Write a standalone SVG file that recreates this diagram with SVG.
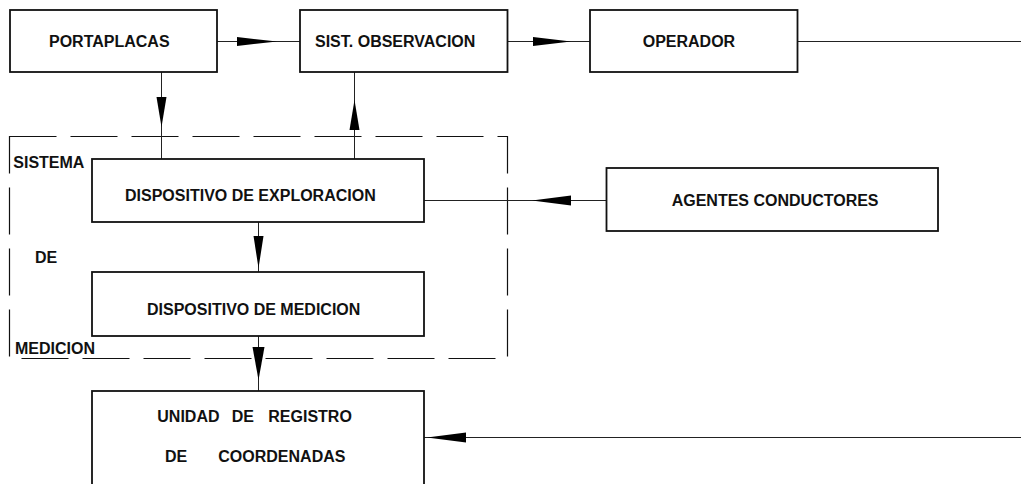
<svg xmlns="http://www.w3.org/2000/svg" width="1021" height="484" viewBox="0 0 1021 484">
<style>
.box{fill:#fff;stroke:#111;stroke-width:1.8}
.ln{fill:none;stroke:#222;stroke-width:1}
.hd{fill:#000;stroke:none}
.dash{fill:none;stroke:#111;stroke-width:1.2;stroke-dasharray:47 14}
text{font-family:"Liberation Sans",Arial,sans-serif;font-weight:bold;font-size:16px;fill:#111}
</style>
<rect width="1021" height="484" fill="#fff"/>
<g id="sistema-medicion">
<path class="dash" d="M9.5,136.5 H507.5 V358.5 H9.5 Z"/>
<text x="13.3" y="168.3">SISTEMA</text>
<text x="35" y="262.7">DE</text>
<text x="15" y="354">MEDICION</text>
</g>
<g id="connectors">
<line class="ln" x1="217" y1="41.5" x2="300" y2="41.5"/>
<polygon class="hd" points="237,37 277,41.5 237,46"/>
<line class="ln" x1="508" y1="41.5" x2="590" y2="41.5"/>
<polygon class="hd" points="533,37 571,41.5 533,46"/>
<line class="ln" x1="798" y1="41.5" x2="1021" y2="41.5"/>
<line class="ln" x1="161.5" y1="72" x2="161.5" y2="159"/>
<polygon class="hd" points="156.5,97 166.5,97 161.5,127"/>
<line class="ln" x1="354.5" y1="72" x2="354.5" y2="159"/>
<polygon class="hd" points="349.5,130 359.5,130 354.5,100"/>
<line class="ln" x1="258.5" y1="222" x2="258.5" y2="272"/>
<polygon class="hd" points="253.5,236 263.5,236 258.5,268"/>
<line class="ln" x1="258.5" y1="336" x2="258.5" y2="391"/>
<polygon class="hd" points="252.5,347 264.5,347 258.5,380"/>
<line class="ln" x1="424" y1="200.5" x2="606" y2="200.5"/>
<polygon class="hd" points="571,195.5 571,205.5 532,200.5"/>
<line class="ln" x1="424" y1="437.5" x2="1021" y2="437.5"/>
<polygon class="hd" points="466,432.5 466,442.5 427,437.5"/>
</g>
<g id="portaplacas">
<rect class="box" x="10" y="10" width="207" height="62"/>
<text x="49" y="46.7">PORTAPLACAS</text>
</g>
<g id="sist-observacion">
<rect class="box" x="300" y="10" width="207.5" height="62"/>
<text x="315" y="46.7">SIST. OBSERVACION</text>
</g>
<g id="operador">
<rect class="box" x="590" y="10" width="207.5" height="62"/>
<text x="642.7" y="46.7">OPERADOR</text>
</g>
<g id="dispositivo-exploracion">
<rect class="box" x="92" y="159" width="332" height="63"/>
<text x="125" y="200.7">DISPOSITIVO DE EXPLORACION</text>
</g>
<g id="agentes-conductores">
<rect class="box" x="606.5" y="168" width="331.5" height="63"/>
<text x="671.7" y="205.7">AGENTES CONDUCTORES</text>
</g>
<g id="dispositivo-medicion">
<rect class="box" x="92" y="272" width="332" height="64"/>
<text x="147" y="315">DISPOSITIVO DE MEDICION</text>
</g>
<g id="unidad-registro">
<rect class="box" x="92" y="391" width="332" height="100"/>
<text y="422.3"><tspan x="157.3">UNIDAD</tspan><tspan x="231.7">DE</tspan><tspan x="268.3">REGISTRO</tspan></text>
<text y="461.7"><tspan x="165">DE</tspan><tspan x="218.3">COORDENADAS</tspan></text>
</g>
</svg>
